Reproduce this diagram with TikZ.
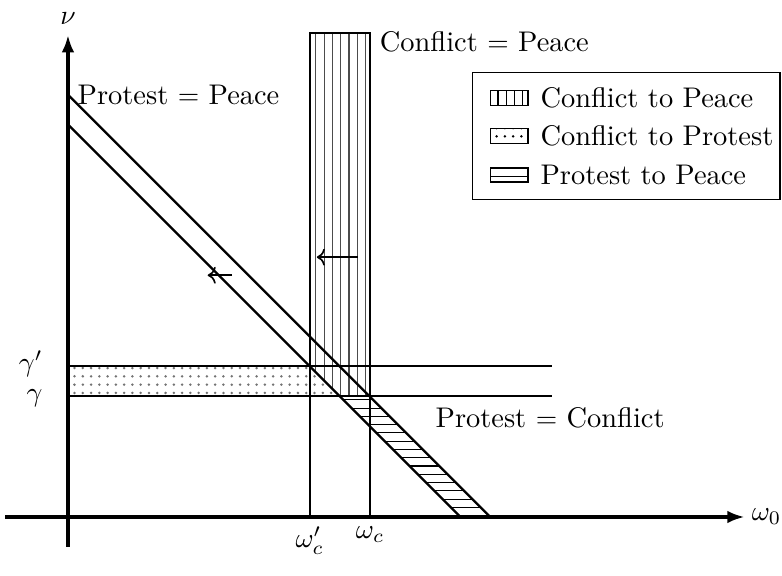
\documentclass[tikz,border=0pt]{standalone}
\usepackage{amsmath}
\usepackage{tikz}
\usetikzlibrary{arrows.meta,positioning,calc,patterns}
\tikzset{
  axisline/.style={-{Latex[length=2.2mm,width=1.6mm]},very thick},
  boundary/.style={thick},
  shiftarrow/.style={->,semithick},
  legendswatch/.style={draw,minimum width=0.48cm,minimum height=0.19cm,inner sep=0pt},
  figurelabel/.style={font=\fontsize{10.3pt}{12.4pt}\selectfont}
}
\begin{document}
\begin{tikzpicture}[every node/.style={figurelabel}]
  \useasboundingbox (-0.866,-0.739) rectangle (9.096,6.586);
  % key points on the axes
  \coordinate (wcp) at (3.08,0);
  \coordinate (wc) at (3.85,0);
  \coordinate (gp) at (0,1.92);
  \coordinate (g) at (0,1.54);
  % shaded regions
  \fill[pattern=vertical lines,pattern color=black!70] (3.08,6.17) -- (3.85,6.17) -- (3.85,1.54) -- (3.46,1.54) -- (3.08,1.92) -- cycle;
  \fill[pattern=dots,pattern color=black!55] (gp) -- (3.08,1.92) -- (3.46,1.54) -- (g) -- cycle;
  \fill[pattern=horizontal lines] (3.46,1.54) -- (3.84,1.54) -- (5.38,0) -- (5,0) -- cycle;
  % boundaries
  \draw[boundary] (0,5.38) -- (5.38,0);
  \draw[boundary] (0,5) -- (5,0);
  \draw[boundary] (gp) -- (6.17,1.92);
  \draw[boundary] (g) -- (6.17,1.54);
  \draw[boundary] (wcp) -- (3.08,6.17) -- (3.85,6.17) -- (wc);
  % axes
  \draw[axisline] (-0.8,0) -- (8.62,0) node[right,inner sep=2pt] (xlab) {$\omega_0$};
  \draw[axisline] (0,-0.38) -- (0,6.14) node[above] (ylab) {$\nu$};
  \node[left] at ($(gp)+(-0.2,0.03)$) {$\gamma'$};
  \node[left] at ($(g)+(-0.2,-0.03)$) {$\gamma$};
  \node[below] at (wcp) {$\omega_c'$};
  \node[below] at (wc) {$\omega_c$};
  % curve labels
  \node[right] at (3.85,6.05) {Conflict $=$ Peace};
  \node[right] at (0,5.38) {Protest $=$ Peace};
  \node[right] at (4.56,1.26) {Protest $=$ Conflict};
  % shifts
  \draw[shiftarrow] (2.09,3.08) -- (1.78,3.08);
  \draw[shiftarrow] (3.69,3.31) -- (3.17,3.31);
  % legend
  \node[draw,minimum width=3.92cm,minimum height=1.61cm] (legend) at (7.11,4.855) {};
  \node[legendswatch,pattern=vertical lines] (sw1) at (5.62,5.34) {};
  \node[legendswatch,pattern=dots,below=0.285cm of sw1] (sw2) {};
  \node[legendswatch,pattern=horizontal lines,below=0.285cm of sw2] (sw3) {};
  \node[right=0.03cm of sw1] {Conflict to Peace};
  \node[right=0.03cm of sw2] {Conflict to Protest};
  \node[right=0.03cm of sw3] {Protest to Peace};
\end{tikzpicture}
\end{document}
